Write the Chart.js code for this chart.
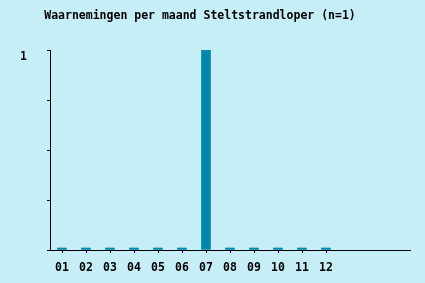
<!DOCTYPE html>
<html>
<head>
<meta charset="utf-8">
<script src="https://cdn.jsdelivr.net/npm/chart.js@4.4.1/dist/chart.umd.min.js"></script>
<style>
  html, body { margin: 0; padding: 0; background: #c6eef7; }
  #wrap { width: 425px; height: 283px; }
</style>
</head>
<body>
<div id="wrap"><canvas id="c" width="425" height="283"></canvas></div>
<script>
const TITLE = 'Waarnemingen per maand Steltstrandloper (n=1)';
const categories = ['01','02','03','04','05','06','07','08','09','10','11','12','','',''];
const counts = [0,0,0,0,0,0,1,0,0,0,0,0,null,null,null];
const yTickLabels = { 1: '1' };

const BG = '#c6eef7';
const BAR = '#0088aa';
const FONT = { family: "'DejaVu Sans Mono', 'Liberation Mono', monospace", size: 11.5, weight: 'bold' };

const titlePlugin = {
  id: 'customTitle',
  afterDraw(chart) {
    const ctx = chart.ctx;
    ctx.save();
    ctx.font = `bold ${FONT.size}px ${FONT.family}`;
    ctx.fillStyle = '#000';
    ctx.textAlign = 'center';
    ctx.textBaseline = 'middle';
    ctx.fillText(TITLE, 200, 16);
    ctx.restore();
  }
};
const bgPlugin = {
  id: 'bg',
  beforeDraw(chart) {
    const ctx = chart.ctx;
    ctx.save();
    ctx.fillStyle = BG;
    ctx.fillRect(0, 0, chart.width, chart.height);
    ctx.restore();
  }
};

new Chart(document.getElementById('c'), {
  type: 'bar',
  data: {
    labels: categories,
    datasets: [{
      data: counts,
      backgroundColor: BAR,
      borderWidth: 0,
      barThickness: 9,
      minBarLength: 2
    }]
  },
  options: {
    responsive: false,
    animation: false,
    devicePixelRatio: 1,
    layout: { padding: { top: 50, right: 15, left: 0, bottom: 0 } },
    plugins: { legend: { display: false }, title: { display: false }, tooltip: { enabled: false } },
    scales: {
      x: {
        offset: true,
        grid: {
          display: true,
          drawOnChartArea: false,
          drawTicks: true,
          tickLength: 3,
          offset: false,
          color: (c) => (c.index !== undefined && c.index < 12) ? '#000' : 'rgba(0,0,0,0)'
        },
        border: { display: true, color: '#000', width: 1 },
        ticks: { color: '#000', font: FONT, padding: 8, autoSkip: false, maxRotation: 0 },
        afterFit(scale) { scale.height = 33; }
      },
      y: {
        min: 0, max: 1,
        grid: { display: true, drawOnChartArea: false, tickLength: 3, color: '#000' },
        border: { display: true, color: '#000', width: 1 },
        ticks: {
          stepSize: 0.25,
          color: '#000',
          font: FONT,
          padding: 20,
          labelOffset: 7,
          callback: (v) => yTickLabels[v] || ''
        },
        afterFit(scale) { scale.width = 50; }
      }
    }
  },
  plugins: [bgPlugin, titlePlugin]
});
</script>
</body>
</html>
